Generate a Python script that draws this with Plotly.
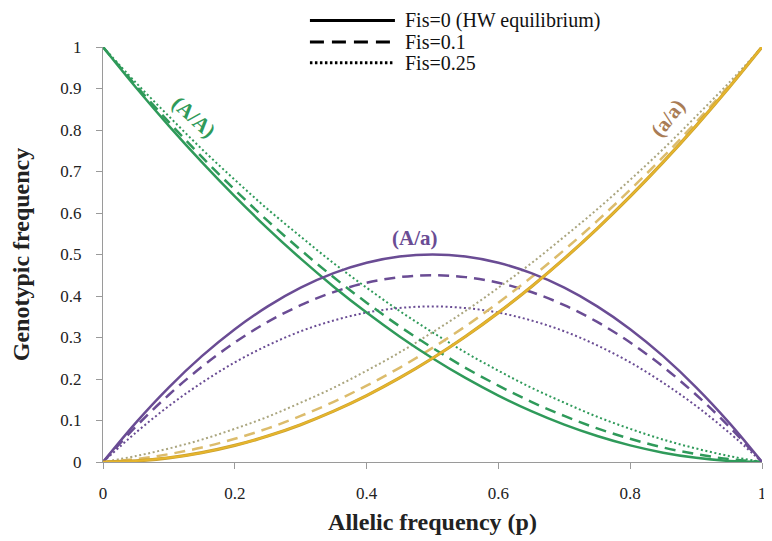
import plotly.graph_objects as go

p = [0, 0.05, 0.1, 0.15, 0.2, 0.25, 0.3, 0.35, 0.4, 0.45, 0.5,
     0.55, 0.6, 0.65, 0.7, 0.75, 0.8, 0.85, 0.9, 0.95, 1]

AA_f0 = [1, 0.9025, 0.81, 0.7225, 0.64, 0.5625, 0.49, 0.4225, 0.36, 0.3025, 0.25,
         0.2025, 0.16, 0.1225, 0.09, 0.0625, 0.04, 0.0225, 0.01, 0.0025, 0]
AA_f01 = [1, 0.907, 0.819, 0.735, 0.656, 0.581, 0.511, 0.445, 0.384, 0.327, 0.275,
          0.227, 0.184, 0.145, 0.111, 0.081, 0.056, 0.035, 0.019, 0.007, 0]
AA_f025 = [1, 0.914, 0.833, 0.754, 0.68, 0.609, 0.543, 0.479, 0.42, 0.364, 0.3125,
           0.264, 0.22, 0.179, 0.143, 0.109, 0.08, 0.054, 0.0325, 0.0144, 0]

Aa_f0 = [0, 0.095, 0.18, 0.255, 0.32, 0.375, 0.42, 0.455, 0.48, 0.495, 0.5,
         0.495, 0.48, 0.455, 0.42, 0.375, 0.32, 0.255, 0.18, 0.095, 0]
Aa_f01 = [0, 0.0855, 0.162, 0.2295, 0.288, 0.3375, 0.378, 0.4095, 0.432, 0.4455, 0.45,
          0.4455, 0.432, 0.4095, 0.378, 0.3375, 0.288, 0.2295, 0.162, 0.0855, 0]
Aa_f025 = [0, 0.071, 0.135, 0.191, 0.24, 0.281, 0.315, 0.341, 0.36, 0.371, 0.375,
           0.371, 0.36, 0.341, 0.315, 0.281, 0.24, 0.191, 0.135, 0.071, 0]

aa_f0 = [0, 0.0025, 0.01, 0.0225, 0.04, 0.0625, 0.09, 0.1225, 0.16, 0.2025, 0.25,
         0.3025, 0.36, 0.4225, 0.49, 0.5625, 0.64, 0.7225, 0.81, 0.9025, 1]
aa_f01 = [0, 0.007, 0.019, 0.035, 0.056, 0.081, 0.111, 0.145, 0.184, 0.227, 0.275,
          0.327, 0.384, 0.445, 0.511, 0.581, 0.656, 0.735, 0.819, 0.907, 1]
aa_f025 = [0, 0.0144, 0.0325, 0.054, 0.08, 0.109, 0.143, 0.179, 0.22, 0.264, 0.3125,
           0.364, 0.42, 0.479, 0.543, 0.609, 0.68, 0.754, 0.833, 0.914, 1]

legend_labels = ["Fis=0 (HW equilibrium)", "Fis=0.1", "Fis=0.25"]
x_ticks = [0, 0.2, 0.4, 0.6, 0.8, 1]
x_ticklabels = ["0", "0.2", "0.4", "0.6", "0.8", "1"]
y_ticks = [0, 0.1, 0.2, 0.3, 0.4, 0.5, 0.6, 0.7, 0.8, 0.9, 1]
y_ticklabels = ["0", "0.1", "0.2", "0.3", "0.4", "0.5", "0.6", "0.7", "0.8", "0.9", "1"]

GREEN = "#2f9a5a"
PURPLE = "#6a4c94"
YELLOW = "#e6b52c"
YELLOW_D = "#dcbc6c"
TAN = "#aaa57e"
BROWN = "#a97c55"
FONT = "Liberation Serif"

DASH = "11px,7px"
DOT = "2px,2.6px"

fig = go.Figure()

def add(y, color, dash, width):
    fig.add_trace(go.Scatter(x=p, y=y, mode="lines", showlegend=False,
                             line=dict(color=color, dash=dash, width=width, shape="spline"),
                             hoverinfo="skip"))

# dotted
add(AA_f025, GREEN, DOT, 2)
add(Aa_f025, PURPLE, DOT, 2)
add(aa_f025, TAN, DOT, 2)
# dashed
add(AA_f01, GREEN, DASH, 2.5)
add(Aa_f01, PURPLE, DASH, 2.5)
add(aa_f01, YELLOW_D, DASH, 2.5)
# solid
add(AA_f0, GREEN, "solid", 2.5)
add(Aa_f0, PURPLE, "solid", 2.5)
add(aa_f0, "#c9a030", "solid", 3.2)
add(aa_f0, YELLOW, "solid", 2)

# manual legend
leg_y = [1.064, 1.012, 0.962]
leg_dash = ["solid", "14px,8px", "2.5px,2.5px"]
for yy, d, lab in zip(leg_y, leg_dash, legend_labels):
    fig.add_shape(type="line", xref="paper", yref="paper", x0=0.314, x1=0.443,
                  y0=yy, y1=yy, line=dict(color="black", width=3, dash=d))
    fig.add_annotation(xref="paper", yref="paper", x=0.455, y=yy, text=lab,
                       showarrow=False, xanchor="left", yanchor="middle",
                       font=dict(family=FONT, size=20, color="#111"))

fig.add_annotation(x=0.138, y=0.832, text="<b>(A/A)</b>", showarrow=False, textangle=42,
                   font=dict(family=FONT, size=21, color=GREEN))
fig.add_annotation(x=0.473, y=0.54, text="<b>(A/a)</b>", showarrow=False,
                   font=dict(family=FONT, size=21, color=PURPLE))
fig.add_annotation(x=0.857, y=0.83, text="<b>(a/a)</b>", showarrow=False, textangle=-52,
                   font=dict(family=FONT, size=21, color=BROWN))

axis_common = dict(showgrid=False, zeroline=False, showline=True, linecolor="#9a9a9a",
                   linewidth=1, ticks="outside", ticklen=6, tickcolor="#9a9a9a",
                   automargin=False,
                   tickfont=dict(family=FONT, size=17, color="#222"))

fig.update_xaxes(range=[0, 1], tickvals=x_ticks, ticktext=x_ticklabels,
                 ticklabelstandoff=10,
                 title=dict(text="<b>Allelic frequency (p)</b>", standoff=10,
                            font=dict(family=FONT, size=24, color="#222")),
                 **axis_common)
fig.update_yaxes(range=[0, 1], tickvals=y_ticks, ticktext=y_ticklabels,
                 ticklabelstandoff=11,
                 title=dict(text="<b>Genotypic frequency</b>", standoff=25,
                            font=dict(family=FONT, size=24, color="#222")),
                 **axis_common)

# page body has an 8px default margin, so the figure is sized/offset accordingly
fig.update_layout(width=764, height=533, margin=dict(l=95, r=10, t=39, b=79),
                  plot_bgcolor="white", paper_bgcolor="white", showlegend=False)

fig.write_html("out.html")
